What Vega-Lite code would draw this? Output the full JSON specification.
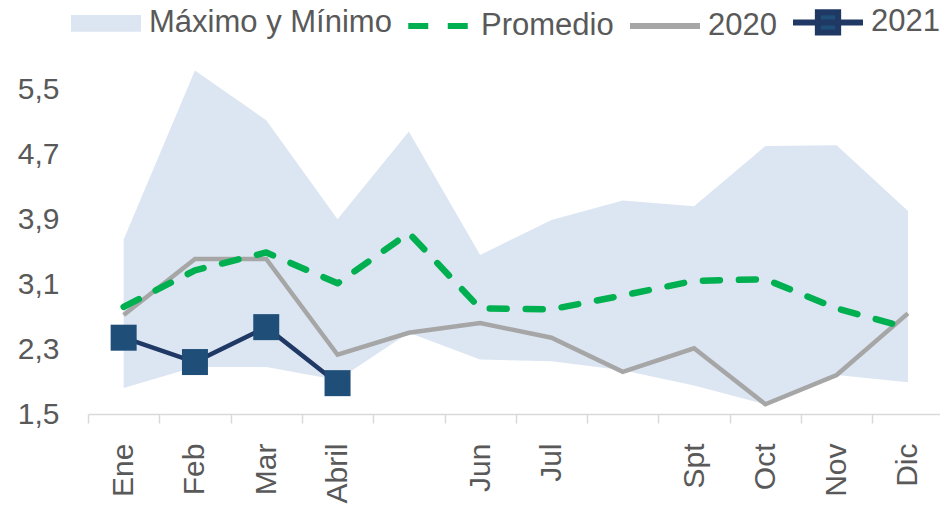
{
  "$schema": "https://vega.github.io/schema/vega-lite/v6.json",
  "width": 852,
  "height": 345,
  "autosize": {"type": "none"},
  "padding": {"left": 88, "top": 69, "right": 0, "bottom": 92},
  "background": "white",
  "config": {"view": {"stroke": null}, "font": "Liberation Sans"},
  "data": {
    "values": [
      {"mes": "Ene", "max": 3.65, "min": 1.82, "prom": 2.82, "y2020": 2.72, "y2021": 2.44},
      {"mes": "Feb", "max": 5.73, "min": 2.08, "prom": 3.27, "y2020": 3.41, "y2021": 2.14},
      {"mes": "Mar", "max": 5.12, "min": 2.08, "prom": 3.49, "y2020": 3.41, "y2021": 2.57},
      {"mes": "Abril", "max": 3.90, "min": 1.92, "prom": 3.11, "y2020": 2.23, "y2021": 1.88},
      {"mes": "May", "max": 4.98, "min": 2.50, "prom": 3.73, "y2020": 2.50, "y2021": null},
      {"mes": "Jun", "max": 3.46, "min": 2.17, "prom": 2.80, "y2020": 2.62, "y2021": null},
      {"mes": "Jul", "max": 3.89, "min": 2.15, "prom": 2.79, "y2020": 2.44, "y2021": null},
      {"mes": "Ago", "max": 4.13, "min": 2.04, "prom": 2.96, "y2020": 2.02, "y2021": null},
      {"mes": "Spt", "max": 4.06, "min": 1.85, "prom": 3.14, "y2020": 2.31, "y2021": null},
      {"mes": "Oct", "max": 4.80, "min": 1.62, "prom": 3.16, "y2020": 1.62, "y2021": null},
      {"mes": "Nov", "max": 4.81, "min": 1.98, "prom": 2.80, "y2020": 1.98, "y2021": null},
      {"mes": "Dic", "max": 4.00, "min": 1.89, "prom": 2.56, "y2020": 2.74, "y2021": null}
    ]
  },
  "encoding": {
    "x": {
      "field": "mes",
      "type": "ordinal",
      "sort": null,
      "scale": {"type": "band", "range": [0, 855.6], "paddingInner": 0, "paddingOuter": 0},
      "axis": {
        "title": null,
        "labelAngle": -90,
        "labelFontSize": 30,
        "labelFont": "Liberation Sans",
        "labelColor": "#595959",
        "labelExpr": "datum.value === 'May' || datum.value === 'Ago' ? '' : datum.value",
        "tickBand": "extent",
        "tickSize": 9,
        "tickColor": "#D9D9D9",
        "tickWidth": 1.5,
        "domainColor": "#D9D9D9",
        "domainWidth": 1.5,
        "labelPadding": 20,
        "grid": false
      }
    }
  },
  "layer": [
    {
      "mark": {"type": "area", "opacity": 1},
      "encoding": {
        "y": {
          "field": "max",
          "type": "quantitative",
          "scale": {"domain": [1.5, 5.75], "nice": false, "zero": false},
          "axis": {
            "values": [1.5, 2.3, 3.1, 3.9, 4.7, 5.5],
            "labelExpr": "replace(format(datum.value, '.1f'), '.', ',')",
            "title": null,
            "domain": false,
            "ticks": false,
            "grid": false,
            "labelFontSize": 30,
            "labelFont": "Liberation Sans",
            "labelColor": "#595959",
            "labelPadding": 29
          }
        },
        "y2": {"field": "min"},
        "color": {
          "datum": "Máximo y Mínimo",
          "scale": {
            "domain": ["Máximo y Mínimo", "Promedio", "2020", "2021"],
            "range": ["#DCE6F2", "#00B050", "#A6A6A6", "#1F4E79"]
          },
          "legend": {
            "orient": "none",
            "legendX": -20,
            "legendY": -85,
            "direction": "horizontal",
            "title": null,
            "symbolSize": 4900,
            "labelFontSize": 31,
            "labelFont": "Liberation Sans",
            "labelColor": "#595959",
            "labelOffset": 5,
            "columnPadding": 4,
            "labelLimit": 400,
            "padding": 0,
            "symbolOpacity": 1,
            "symbolStrokeWidth": 6,
            "symbolType": {"expr": "datum.value === 'Máximo y Mínimo' ? 'M-1,-0.24H1V0.24H-1Z' : datum.value === '2021' ? 'M-1,0H1M-0.29,-0.29H0.29V0.29H-0.29Z' : datum.value === 'Promedio' ? 'M-0.85,0H0.85' : 'M-1,0H1'"},
            "symbolStrokeColor": {"expr": "datum.value === 'Máximo y Mínimo' ? 'transparent' : datum.value === 'Promedio' ? '#00B050' : datum.value === '2020' ? '#A6A6A6' : '#1F3864'"},
            "symbolDash": {"expr": "datum.value === 'Promedio' ? [20, 19.5] : [1, 0]"}
          }
        }
      }
    },
    {
      "mark": {"type": "line", "strokeWidth": 4.5, "strokeJoin": "miter", "stroke": "#A6A6A6"},
      "encoding": {
        "y": {"field": "y2020", "type": "quantitative"}
      }
    },
    {
      "mark": {"type": "line", "strokeWidth": 6.5, "strokeDash": [17, 19], "strokeCap": "round", "strokeJoin": "round", "stroke": "#00B050"},
      "encoding": {
        "y": {"field": "prom", "type": "quantitative"}
      }
    },
    {
      "transform": [{"filter": "datum.y2021 != null"}],
      "mark": {"type": "line", "strokeWidth": 4.5, "stroke": "#1F3864"},
      "encoding": {
        "y": {"field": "y2021", "type": "quantitative"}
      }
    },
    {
      "transform": [{"filter": "datum.y2021 != null"}],
      "mark": {"type": "point", "shape": "square", "filled": true, "size": 676, "opacity": 1, "fill": "#1F4E79"},
      "encoding": {
        "y": {"field": "y2021", "type": "quantitative"}
      }
    }
  ]
}
